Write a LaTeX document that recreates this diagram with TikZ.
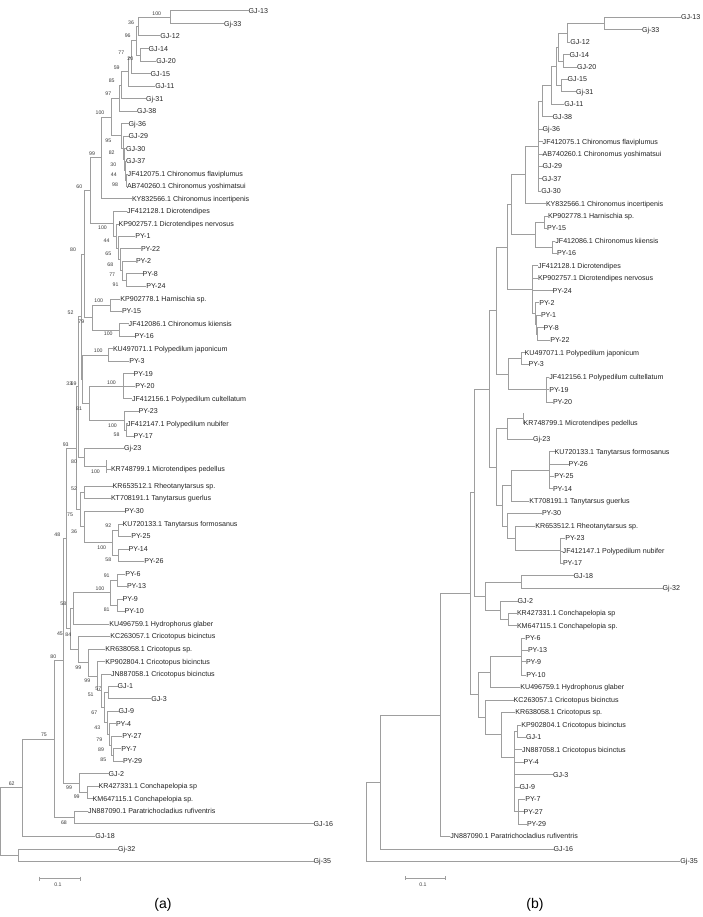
\documentclass[tikz,border=0pt]{standalone}
\usepackage{fontspec}
\setmainfont{Liberation Sans}
\definecolor{brc}{RGB}{158,158,158}
\definecolor{txc}{RGB}{35,35,35}
\definecolor{bsc}{RGB}{60,60,60}
\newcommand\leafnode[4]{\node[lf] (#1) at (#3,#4) {#2};}
\newcommand\inode[3]{\coordinate (#1) at (#2,#3);}
\newcommand\tlinks[2]{\foreach \cc in {#2} {\draw[br] (#1) |- (\cc);}}
\newcommand\bsv[4]{\node[bs] (#1) at (#2,#3) {#4};}
\begin{document}
\begin{tikzpicture}[x=1pt,y=-1pt,
  br/.style={draw=brc,line width=0.65pt},
  lf/.style={anchor=west,inner sep=0pt,xshift=-1.5pt,font=\fontsize{7.1}{8.5}\selectfont,text=txc,text height=5.1pt,text depth=0pt},
  bs/.style={inner sep=0pt,font=\fontsize{5.2}{6}\selectfont,text=bsc},
  captxt/.style={inner sep=0pt,font=\fontsize{14}{16}\selectfont,text=black}]
\useasboundingbox (0,0) rectangle (702,917);
\fill[white] (0,0) rectangle (702,917);

% ================= TREE (a) leaves =================
\leafnode{A01}{GJ-13}{250}{10.7}
\leafnode{A02}{Gj-33}{225.3}{23.7}
\leafnode{A03}{GJ-12}{161.7}{35.7}
\leafnode{A04}{GJ-14}{150}{48.7}
\leafnode{A05}{GJ-20}{157.7}{61}
\leafnode{A06}{GJ-15}{152}{73.5}
\leafnode{A07}{GJ-11}{156.7}{86}
\leafnode{A08}{Gj-31}{147.3}{98.7}
\leafnode{A09}{GJ-38}{138.3}{111}
\leafnode{A10}{Gj-36}{130}{123.7}
\leafnode{A11}{GJ-29}{130}{136}
\leafnode{A12}{GJ-30}{127.3}{148.7}
\leafnode{A13}{GJ-37}{127.3}{161}
\leafnode{A14}{JF412075.1 Chironomus flaviplumus}{129}{174}
\leafnode{A15}{AB740260.1 Chironomus yoshimatsui}{128.3}{186.3}
\leafnode{A16}{KY832566.1 Chironomus incertipenis}{133.3}{198.7}
\leafnode{A17}{JF412128.1 Dicrotendipes}{128.3}{211.3}
\leafnode{A18}{KP902757.1 Dicrotendipes nervosus}{120}{224}
\leafnode{A19}{PY-1}{136.7}{236}
\leafnode{A20}{PY-22}{142.3}{248.7}
\leafnode{A21}{PY-2}{137.3}{261.3}
\leafnode{A22}{PY-8}{144}{273.7}
\leafnode{A23}{PY-24}{147.7}{286}
\leafnode{A24}{KP902778.1 Harnischia sp.}{121.7}{299}
\leafnode{A25}{PY-15}{123.3}{311}
\leafnode{A26}{JF412086.1 Chironomus kiiensis}{130}{323.7}
\leafnode{A27}{PY-16}{136}{336}
\leafnode{A28}{KU497071.1 Polypedilum japonicum}{114.3}{348.7}
\leafnode{A29}{PY-3}{130.7}{361}
\leafnode{A30}{PY-19}{135}{373.7}
\leafnode{A31}{PY-20}{136.7}{386}
\leafnode{A32}{JF412156.1 Polypedilum cultellatum}{133.3}{398.7}
\leafnode{A33}{PY-23}{140}{411}
\leafnode{A34}{JF412147.1 Polypedilum nubifer}{128.3}{423.7}
\leafnode{A35}{PY-17}{135}{436}
\leafnode{A36}{Gj-23}{125.3}{448}
\leafnode{A37}{KR748799.1 Microtendipes pedellus}{112.3}{469}
\leafnode{A38}{KR653512.1 Rheotanytarsus sp.}{114}{486}
\leafnode{A39}{KT708191.1 Tanytarsus guerlus}{112.3}{498}
\leafnode{A40}{PY-30}{126}{511}
\leafnode{A41}{KU720133.1 Tanytarsus formosanus}{124}{524}
\leafnode{A42}{PY-25}{132.7}{536}
\leafnode{A43}{PY-14}{130}{549}
\leafnode{A44}{PY-26}{145.7}{561}
\leafnode{A45}{PY-6}{126.7}{574}
\leafnode{A46}{PY-13}{128.3}{586}
\leafnode{A47}{PY-9}{124}{599}
\leafnode{A48}{PY-10}{126}{611}
\leafnode{A49}{KU496759.1 Hydrophorus glaber}{110.7}{624}
\leafnode{A50}{KC263057.1 Cricotopus bicinctus}{111.7}{636}
\leafnode{A51}{KR638058.1 Cricotopus sp.}{106.7}{649}
\leafnode{A52}{KP902804.1 Cricotopus bicinctus}{106.7}{661.7}
\leafnode{A53}{JN887058.1 Cricotopus bicinctus}{112.3}{674}
\leafnode{A54}{GJ-1}{119}{686}
\leafnode{A55}{GJ-3}{152.7}{698.7}
\leafnode{A56}{GJ-9}{120}{711}
\leafnode{A57}{PY-4}{117.3}{723.7}
\leafnode{A58}{PY-27}{123.7}{736}
\leafnode{A59}{PY-7}{122.7}{748.7}
\leafnode{A60}{PY-29}{124.3}{761}
\leafnode{A61}{GJ-2}{110}{773.7}
\leafnode{A62}{KR427331.1 Conchapelopia sp}{100}{786}
\leafnode{A63}{KM647115.1 Conchapelopia sp.}{94}{798.7}
\leafnode{A64}{JN887090.1 Paratrichocladius rufiventris}{89.3}{811}
\leafnode{A65}{GJ-16}{315}{823.7}
\leafnode{A66}{GJ-18}{96.7}{836}
\leafnode{A67}{Gj-32}{119.3}{849}
\leafnode{A68}{Gj-35}{315}{861}

% ================= TREE (a) internal nodes =================
\inode{a1}{170.7}{17.2}
\inode{a2}{138.3}{26.5}
\inode{a3}{140}{54.9}
\inode{a4}{136.7}{40.7}
\inode{a5}{131.7}{57.1}
\inode{a6}{128.3}{71.6}
\inode{a7}{121.7}{85.1}
\inode{a8}{119}{98.1}
\inode{b1}{126}{180.2}
\inode{b2}{125}{170.6}
\inode{b3}{124}{159.7}
\inode{b4}{123}{147.9}
\inode{b5}{121}{135.8}
\inode{a9}{111}{117}
\inode{a10}{101.7}{157.8}
\inode{c1}{126.7}{279.9}
\inode{c2}{122.7}{270.6}
\inode{c3}{120}{259.7}
\inode{c4}{118}{247.9}
\inode{c5}{116.5}{236}
\inode{c6}{113}{223.7}
\inode{a11}{90}{190.7}
\inode{d1}{110}{305}
\inode{d2}{119}{329.9}
\inode{d3}{92}{317.4}
\inode{a12}{84}{254}
\inode{e1}{108.5}{354.9}
\inode{f1}{123.3}{386.2}
\inode{g1}{126.5}{429.9}
\inode{g2}{124.5}{420.4}
\inode{h1}{89.3}{403.3}
\inode{e2}{82.5}{379.1}
\inode{a13}{81}{316.5}
\inode{i0}{106}{466}
\inode{i0t}{106}{460}
\inode{i0b}{106}{473}
\inode{i1}{84.5}{457}
\inode{j1}{78.5}{386.8}
\inode{k1}{84.5}{492}
\inode{m1}{118.8}{530}
\inode{m2}{118.8}{555}
\inode{m3}{112.2}{542.5}
\inode{k2}{84.5}{526.8}
\inode{k4}{80.5}{509.4}
\inode{j2}{76.2}{448.1}
\inode{n1}{117.2}{580}
\inode{n2}{117.2}{605}
\inode{n3}{110.5}{592.5}
\inode{n4}{73.8}{608.3}
\inode{q1}{108.8}{692.4}
\inode{q2}{113.8}{754.9}
\inode{q3}{111.5}{745.4}
\inode{q4}{109.8}{734.6}
\inode{q5}{107.8}{722.8}
\inode{q6}{104.8}{707.6}
\inode{q7}{101.2}{690.8}
\inode{q8}{97.8}{676.3}
\inode{q9}{88.8}{662.6}
\inode{q10}{78.5}{649.3}
\inode{n5}{70.5}{628.8}
\inode{j3}{66.3}{538.5}
\inode{s1}{87.2}{792.4}
\inode{s2}{79.5}{783}
\inode{r4}{63.8}{660.8}
\inode{r3}{74.5}{817.4}
\inode{r2}{54.5}{739.1}
\inode{r1}{22.2}{787.6}
\inode{t1}{18.3}{855}
\inode{rootA}{0.7}{821.3}

\tlinks{a1}{A01,A02}
\tlinks{a2}{a1,A03}
\tlinks{a3}{A04,A05}
\tlinks{a4}{a2,a3}
\tlinks{a5}{a4,A06}
\tlinks{a6}{a5,A07}
\tlinks{a7}{a6,A08}
\tlinks{a8}{a7,A09}
\tlinks{b1}{A14,A15}
\tlinks{b2}{A13,b1}
\tlinks{b3}{A12,b2}
\tlinks{b4}{A11,b3}
\tlinks{b5}{A10,b4}
\tlinks{a9}{a8,b5}
\tlinks{a10}{a9,A16}
\tlinks{c1}{A22,A23}
\tlinks{c2}{A21,c1}
\tlinks{c3}{A20,c2}
\tlinks{c4}{A19,c3}
\tlinks{c5}{A18,c4}
\tlinks{c6}{A17,c5}
\tlinks{a11}{a10,c6}
\tlinks{d1}{A24,A25}
\tlinks{d2}{A26,A27}
\tlinks{d3}{d1,d2}
\tlinks{a12}{a11,d3}
\tlinks{e1}{A28,A29}
\tlinks{f1}{A30,A31,A32}
\tlinks{g1}{A34,A35}
\tlinks{g2}{A33,g1}
\tlinks{h1}{f1,g2}
\tlinks{e2}{e1,h1}
\tlinks{a13}{a12,e2}
\draw[br] (i0t) -- (i0b);
\tlinks{i0}{A37}
\tlinks{i1}{A36,i0}
\tlinks{j1}{a13,i1}
\tlinks{k1}{A38,A39}
\tlinks{m1}{A41,A42}
\tlinks{m2}{A43,A44}
\tlinks{m3}{m1,m2}
\tlinks{k2}{A40,m3}
\tlinks{k4}{k1,k2}
\tlinks{j2}{j1,k4}
\tlinks{n1}{A45,A46}
\tlinks{n2}{A47,A48}
\tlinks{n3}{n1,n2}
\tlinks{n4}{n3,A49}
\tlinks{q1}{A54,A55}
\tlinks{q2}{A59,A60}
\tlinks{q3}{A58,q2}
\tlinks{q4}{A57,q3}
\tlinks{q5}{A56,q4}
\tlinks{q6}{q1,q5}
\tlinks{q7}{A53,q6}
\tlinks{q8}{A52,q7}
\tlinks{q9}{A51,q8}
\tlinks{q10}{A50,q9}
\tlinks{n5}{n4,q10}
\tlinks{j3}{j2,n5}
\tlinks{s1}{A62,A63}
\tlinks{s2}{A61,s1}
\tlinks{r4}{j3,s2}
\tlinks{r3}{A64,A65}
\tlinks{r2}{r4,r3}
\tlinks{r1}{r2,A66}
\tlinks{t1}{A67,A68}
\tlinks{rootA}{r1,t1}

% bootstrap values (a)
\bsv{v01}{156.7}{13.3}{100}
\bsv{v02}{131}{22.7}{36}
\bsv{v03}{127.7}{36}{96}
\bsv{v04}{121.3}{53}{77}
\bsv{v05}{130.3}{59}{20}
\bsv{v06}{116.7}{67.3}{59}
\bsv{v07}{111.7}{80.3}{85}
\bsv{v08}{108.3}{93.7}{97}
\bsv{v09}{100}{112.7}{100}
\bsv{v10}{108.3}{140.3}{95}
\bsv{v11}{111.7}{152.7}{82}
\bsv{v12}{113.3}{164.3}{30}
\bsv{v13}{92}{153.3}{99}
\bsv{v14}{113.8}{175}{44}
\bsv{v15}{115}{185}{98}
\bsv{v16}{79.3}{186.7}{60}
\bsv{v17}{102.5}{227.7}{100}
\bsv{v18}{106.5}{241}{44}
\bsv{v19}{108.3}{253.3}{65}
\bsv{v20}{110.3}{264.3}{68}
\bsv{v21}{112.2}{275}{77}
\bsv{v22}{115.5}{284.5}{91}
\bsv{v23}{73}{249.3}{80}
\bsv{v24}{98.7}{301}{100}
\bsv{v25}{70.5}{312.3}{52}
\bsv{v26}{81.3}{321.7}{79}
\bsv{v27}{108.3}{334}{100}
\bsv{v28}{98.3}{351}{100}
\bsv{v29}{111.5}{382.3}{100}
\bsv{v30}{69.3}{383.3}{33}
\bsv{v31}{73.6}{383.3}{69}
\bsv{v32}{79}{408.3}{81}
\bsv{v33}{112.5}{425.3}{100}
\bsv{v34}{116.5}{434.7}{58}
\bsv{v35}{65.7}{444.3}{93}
\bsv{v36}{74}{462.2}{80}
\bsv{v37}{95.5}{471.8}{100}
\bsv{v38}{74}{488.3}{52}
\bsv{v39}{70}{514.3}{75}
\bsv{v40}{74}{531.7}{36}
\bsv{v41}{57.3}{534.3}{48}
\bsv{v42}{108.3}{525.7}{92}
\bsv{v43}{101.7}{547.3}{100}
\bsv{v44}{108.3}{559.7}{58}
\bsv{v45}{106.7}{576}{91}
\bsv{v46}{100}{588.3}{100}
\bsv{v47}{106.7}{609.7}{81}
\bsv{v48}{63.3}{604}{58}
\bsv{v49}{60}{633.3}{45}
\bsv{v50}{68.3}{635}{84}
\bsv{v51}{53.3}{656.7}{80}
\bsv{v52}{78.3}{667.3}{99}
\bsv{v53}{87.3}{680.7}{99}
\bsv{v54}{98.3}{688.3}{57}
\bsv{v55}{90.7}{695}{51}
\bsv{v56}{94.3}{712.3}{67}
\bsv{v57}{97.3}{727.7}{43}
\bsv{v58}{99.3}{739.5}{79}
\bsv{v59}{101}{750}{89}
\bsv{v60}{103.3}{759.3}{85}
\bsv{v61}{44}{735}{75}
\bsv{v62}{11.7}{783.3}{62}
\bsv{v63}{69}{787.7}{99}
\bsv{v64}{76.7}{796.7}{99}
\bsv{v65}{64}{822.3}{68}

% scale bar (a)
\inode{sbaL}{39}{878.7}
\inode{sbaR}{80}{878.7}
\draw[br] (sbaL) -- (sbaR);
\draw[br] (sbaL) ++(0,-2) -- ++(0,4);
\draw[br] (sbaR) ++(0,-2) -- ++(0,4);
\node[bs] (sbaT) at (58,884.5) {0.1};
\node[captxt] (capA) at (163,904.5) {(a)};

% ================= TREE (b) leaves =================
\leafnode{B01}{GJ-13}{682.3}{17.3}
\leafnode{B02}{Gj-33}{643.3}{29.7}
\leafnode{B03}{GJ-12}{571.7}{42.3}
\leafnode{B04}{GJ-14}{571}{54.7}
\leafnode{B05}{GJ-20}{578.3}{67}
\leafnode{B06}{GJ-15}{569}{79.3}
\leafnode{B07}{Gj-31}{577.3}{91.7}
\leafnode{B08}{GJ-11}{565.7}{104}
\leafnode{B09}{GJ-38}{554}{116.7}
\leafnode{B10}{Gj-36}{544}{129}
\leafnode{B11}{JF412075.1 Chironomus flaviplumus}{544}{141.7}
\leafnode{B12}{AB740260.1 Chironomus yoshimatsui}{544}{154}
\leafnode{B13}{GJ-29}{544}{166.3}
\leafnode{B14}{GJ-37}{543.3}{178.7}
\leafnode{B15}{GJ-30}{542.7}{191}
\leafnode{B16}{KY832566.1 Chironomus incertipenis}{547.3}{203.7}
\leafnode{B17}{KP902778.1 Harnischia sp.}{549.3}{216}
\leafnode{B18}{PY-15}{548.3}{228.3}
\leafnode{B19}{JF412086.1 Chironomus kiiensis}{556.7}{241}
\leafnode{B20}{PY-16}{558.3}{253.3}
\leafnode{B21}{JF412128.1 Dicrotendipes}{539.3}{265.7}
\leafnode{B22}{KP902757.1 Dicrotendipes nervosus}{539.3}{278.3}
\leafnode{B23}{PY-24}{554}{290.7}
\leafnode{B24}{PY-2}{540.7}{302.7}
\leafnode{B25}{PY-1}{542.3}{315.3}
\leafnode{B26}{PY-8}{545}{327.7}
\leafnode{B27}{PY-22}{551.7}{340}
\leafnode{B28}{KU497071.1 Polypedilum japonicum}{526}{352.7}
\leafnode{B29}{PY-3}{530}{364.3}
\leafnode{B30}{JF412156.1 Polypedilum cultellatum}{550.7}{377.3}
\leafnode{B31}{PY-19}{550.7}{389.7}
\leafnode{B32}{PY-20}{554.3}{402}
\leafnode{B33}{KR748799.1 Microtendipes pedellus}{525}{422.7}
\leafnode{B34}{Gj-23}{534.3}{439.3}
\leafnode{B35}{KU720133.1 Tanytarsus formosanus}{556}{451.7}
\leafnode{B36}{PY-26}{570}{464}
\leafnode{B37}{PY-25}{555.7}{476.3}
\leafnode{B38}{PY-14}{554.3}{488.7}
\leafnode{B39}{KT708191.1 Tanytarsus guerlus}{530.7}{501}
\leafnode{B40}{PY-30}{543.3}{513.3}
\leafnode{B41}{KR653512.1 Rheotanytarsus sp.}{536.7}{526}
\leafnode{B42}{PY-23}{566.7}{538.3}
\leafnode{B43}{JF412147.1 Polypedilum nubifer}{564}{551}
\leafnode{B44}{PY-17}{564.3}{563.3}
\leafnode{B45}{GJ-18}{575}{575.7}
\leafnode{B46}{Gj-32}{664}{588}
\leafnode{B47}{GJ-2}{519}{601}
\leafnode{B48}{KR427331.1 Conchapelopia sp}{518.3}{613.3}
\leafnode{B49}{KM647115.1 Conchapelopia sp.}{518.3}{625.7}
\leafnode{B50}{PY-6}{526.7}{638.3}
\leafnode{B51}{PY-13}{529.3}{650.3}
\leafnode{B52}{PY-9}{527.3}{661.7}
\leafnode{B53}{PY-10}{527.7}{675}
\leafnode{B54}{KU496759.1 Hydrophorus glaber}{521.7}{687.3}
\leafnode{B55}{KC263057.1 Cricotopus bicinctus}{515}{700}
\leafnode{B56}{KR638058.1 Cricotopus sp.}{516.7}{712.3}
\leafnode{B57}{KP902804.1 Cricotopus bicinctus}{522.7}{725}
\leafnode{B58}{GJ-1}{527.3}{737.3}
\leafnode{B59}{JN887058.1 Cricotopus bicinctus}{523.3}{749.7}
\leafnode{B60}{PY-4}{525}{762}
\leafnode{B61}{GJ-3}{554.3}{774.7}
\leafnode{B62}{GJ-9}{521}{787}
\leafnode{B63}{PY-7}{526.7}{799.3}
\leafnode{B64}{PY-27}{525}{811.7}
\leafnode{B65}{PY-29}{528.3}{824}
\leafnode{B66}{JN887090.1 Paratrichocladius rufiventris}{451.7}{836.3}
\leafnode{B67}{GJ-16}{555}{849}
\leafnode{B68}{Gj-35}{681.7}{861.3}

% ================= TREE (b) internal nodes =================
\inode{u1}{604.3}{23.5}
\inode{u2}{567.7}{32.9}
\inode{u4}{563.3}{60.85}
\inode{u3}{558.3}{46.9}
\inode{u5}{561}{85.5}
\inode{u6}{556}{66.2}
\inode{u7}{551.7}{85.1}
\inode{u8}{542.7}{100.9}
\inode{u9}{538.3}{146}
\inode{u10}{525}{174.8}
\inode{w1}{544}{222.2}
\inode{w2}{552.3}{247.2}
\inode{w3}{535}{234.7}
\inode{u11}{511.7}{204.7}
\inode{x1}{537.3}{333.9}
\inode{x2}{536.3}{324.6}
\inode{x3}{535}{313.6}
\inode{x4}{532}{289.7}
\inode{u12}{507.7}{247.2}
\inode{y1}{521.7}{358.5}
\inode{y2}{546.7}{389.7}
\inode{y3}{508.3}{374.1}
\inode{u13}{496.7}{310.7}
\inode{z0}{523.5}{418}
\inode{z0t}{523.5}{413}
\inode{z0b}{523.5}{424}
\inode{z1}{507.3}{428.7}
\inode{z2}{549.5}{470.2}
\inode{z3}{511}{485.6}
\inode{z4}{560}{550.8}
\inode{z5}{515}{538.4}
\inode{z6}{507.7}{525.9}
\inode{z7}{502.3}{505.7}
\inode{z8}{496.7}{467.2}
\inode{u14}{489}{389}
\inode{h1b}{521.7}{581.9}
\inode{h2b}{508.3}{619.5}
\inode{h3b}{500}{610.3}
\inode{h4b}{485.7}{596.1}
\inode{u15}{474.3}{492.5}
\inode{p1}{521.7}{656.7}
\inode{p2}{490.7}{672}
\inode{o1}{517.7}{731.2}
\inode{o2}{518.3}{811.7}
\inode{o3}{514.3}{757}
\inode{o4}{501}{734.7}
\inode{o5}{485.7}{717.3}
\inode{o6}{478.3}{694.7}
\inode{u16}{470}{593.6}
\inode{u17}{440}{715}
\inode{u18}{380}{782}
\inode{rootB}{366}{821.6}

\tlinks{u1}{B01,B02}
\tlinks{u2}{u1,B03}
\tlinks{u4}{B04,B05}
\tlinks{u3}{u2,u4}
\tlinks{u5}{B06,B07}
\tlinks{u6}{u3,u5}
\tlinks{u7}{u6,B08}
\tlinks{u8}{u7,B09}
\tlinks{u9}{u8,B10,B11,B12,B13,B14,B15}
\tlinks{u10}{u9,B16}
\tlinks{w1}{B17,B18}
\tlinks{w2}{B19,B20}
\tlinks{w3}{w1,w2}
\tlinks{u11}{u10,w3}
\tlinks{x1}{B26,B27}
\tlinks{x2}{B25,x1}
\tlinks{x3}{B24,x2}
\tlinks{x4}{B21,B22,B23,x3}
\tlinks{u12}{u11,x4}
\tlinks{y1}{B28,B29}
\tlinks{y2}{B30,B31,B32}
\tlinks{y3}{y1,y2}
\tlinks{u13}{u12,y3}
\draw[br] (z0t) -- (z0b);
\tlinks{z0}{B33}
\tlinks{z1}{z0,B34}
\tlinks{z2}{B35,B36,B37,B38}
\tlinks{z3}{z2,B39}
\tlinks{z4}{B42,B43,B44}
\tlinks{z5}{B41,z4}
\tlinks{z6}{B40,z5}
\tlinks{z7}{z3,z6}
\tlinks{z8}{z1,z7}
\tlinks{u14}{u13,z8}
\tlinks{h1b}{B45,B46}
\tlinks{h2b}{B48,B49}
\tlinks{h3b}{B47,h2b}
\tlinks{h4b}{h1b,h3b}
\tlinks{u15}{u14,h4b}
\tlinks{p1}{B50,B51,B52,B53}
\tlinks{p2}{p1,B54}
\tlinks{o1}{B57,B58}
\tlinks{o2}{B63,B64,B65}
\tlinks{o3}{o1,B59,B60,B61,B62,o2}
\tlinks{o4}{B56,o3}
\tlinks{o5}{B55,o4}
\tlinks{o6}{p2,o5}
\tlinks{u16}{u15,o6}
\tlinks{u17}{u16,B66}
\tlinks{u18}{u17,B67}
\tlinks{rootB}{u18,B68}

% scale bar (b)
\inode{sbbL}{405}{878.3}
\inode{sbbR}{445}{878.3}
\draw[br] (sbbL) -- (sbbR);
\draw[br] (sbbL) ++(0,-2) -- ++(0,4);
\draw[br] (sbbR) ++(0,-2) -- ++(0,4);
\node[bs] (sbbT) at (423,884.5) {0.1};
\node[captxt] (capB) at (535,905) {(b)};
\end{tikzpicture}
\end{document}
